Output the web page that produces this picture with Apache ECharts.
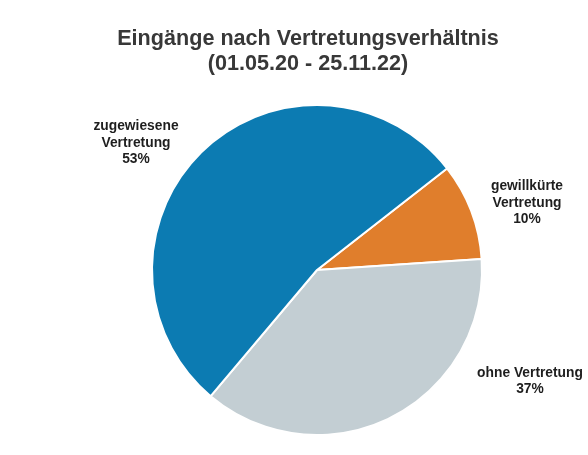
<!DOCTYPE html>
<html>
<head>
<meta charset="utf-8">
<script src="https://cdn.jsdelivr.net/npm/echarts@6/dist/echarts.min.js"></script>
<style>
  html, body { margin: 0; padding: 0; background: #fff; }
  #chart { width: 588px; height: 455px; }
</style>
</head>
<body>
<div id="chart"></div>
<script>
// categories in clockwise order, starting at the upper right
const categories = ['gewillkürte\nVertretung', 'ohne Vertretung', 'zugewiesene\nVertretung']
const values = [95, 372, 533]
const colors = ['#e07e2c', '#c3ced3', '#0c7bb2']

// where each label sits (px)
const labelPos = [
  [527, 203],
  [530, 381],
  [136, 143]
]

const chart = echarts.init(document.getElementById('chart'))

chart.setOption({
  backgroundColor: '#fff',
  animation: false,
  title: {
    text: 'Eingänge nach Vertretungsverhältnis\n(01.05.20 - 25.11.22)',
    left: 303,
    top: 22,
    textAlign: 'center',
    textStyle: {
      fontFamily: 'Liberation Sans, Arial, sans-serif',
      fontSize: 21.6,
      fontWeight: 'bold',
      color: '#383838',
      lineHeight: 25
    }
  },
  series: [
    {
      type: 'pie',
      center: [317, 270],
      radius: 165,
      startAngle: 38,
      clockwise: true,
      percentPrecision: 0,
      itemStyle: {
        borderColor: '#fff',
        borderWidth: 2
      },
      label: {
        show: true,
        position: 'outside',
        formatter: '{b}\n{d}%',
        fontFamily: 'Liberation Sans, Arial, sans-serif',
        fontSize: 13.8,
        fontWeight: 'bold',
        color: '#1e1e1e',
        lineHeight: 16.5,
        align: 'center',
        overflow: 'none',
        width: 200
      },
      labelLine: { show: false },
      labelLayout: (params) => ({
        x: labelPos[params.dataIndex][0],
        y: labelPos[params.dataIndex][1],
        align: 'center',
        verticalAlign: 'middle'
      }),
      emphasis: { disabled: true },
      data: categories.map((name, i) => ({
        name,
        value: values[i],
        itemStyle: { color: colors[i] }
      }))
    }
  ]
})
</script>
</body>
</html>
